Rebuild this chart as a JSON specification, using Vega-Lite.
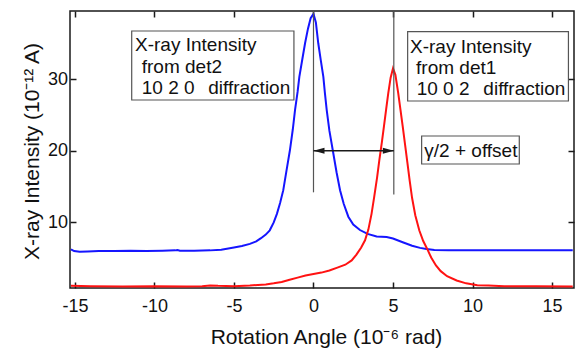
{
  "$schema": "https://vega.github.io/schema/vega-lite/v6.json",
  "width": 504,
  "height": 277,
  "autosize": {"type": "none"},
  "padding": {"left": 70, "top": 11, "right": 2, "bottom": 61},
  "background": "white",
  "config": {
    "view": {"stroke": "#1a1a1a", "strokeWidth": 1.5},
    "font": "Liberation Sans",
    "axis": {"labelFont": "Liberation Sans", "titleFont": "Liberation Sans", "labelColor": "#111", "titleColor": "#111", "titleFontWeight": "normal", "tickColor": "#1a1a1a", "tickWidth": 1.5, "grid": false, "domain": false}
  },
  "datasets": {
    "curves": [
      {"series": "det2", "x": -15.25, "y": 6.25}, {"series": "det2", "x": -15.05, "y": 6.0}, {"series": "det2", "x": -14.7, "y": 5.9}, {"series": "det2", "x": -14.2, "y": 5.95}, {"series": "det2", "x": -13.5, "y": 6.0}, {"series": "det2", "x": -12.5, "y": 6.0}, {"series": "det2", "x": -11.5, "y": 6.05}, {"series": "det2", "x": -10.5, "y": 6.0}, {"series": "det2", "x": -9.5, "y": 6.05}, {"series": "det2", "x": -8.7, "y": 6.1}, {"series": "det2", "x": -8.55, "y": 6.15}, {"series": "det2", "x": -8.4, "y": 6.05}, {"series": "det2", "x": -7.5, "y": 6.05}, {"series": "det2", "x": -6.5, "y": 6.1}, {"series": "det2", "x": -5.8, "y": 6.2}, {"series": "det2", "x": -5.0, "y": 6.5}, {"series": "det2", "x": -4.5, "y": 6.7}, {"series": "det2", "x": -4.0, "y": 7.0}, {"series": "det2", "x": -3.6, "y": 7.35}, {"series": "det2", "x": -3.3, "y": 7.8}, {"series": "det2", "x": -3.0, "y": 8.3}, {"series": "det2", "x": -2.75, "y": 8.9}, {"series": "det2", "x": -2.5, "y": 10.0}, {"series": "det2", "x": -2.3, "y": 11.2}, {"series": "det2", "x": -2.1, "y": 12.7}, {"series": "det2", "x": -1.9, "y": 14.5}, {"series": "det2", "x": -1.7, "y": 17.2}, {"series": "det2", "x": -1.48, "y": 20.1}, {"series": "det2", "x": -1.3, "y": 23.0}, {"series": "det2", "x": -1.16, "y": 25.7}, {"series": "det2", "x": -1.0, "y": 28.2}, {"series": "det2", "x": -0.89, "y": 30.3}, {"series": "det2", "x": -0.7, "y": 32.8}, {"series": "det2", "x": -0.53, "y": 35.0}, {"series": "det2", "x": -0.35, "y": 37.0}, {"series": "det2", "x": -0.18, "y": 38.5}, {"series": "det2", "x": 0.0, "y": 39.1}, {"series": "det2", "x": 0.15, "y": 37.9}, {"series": "det2", "x": 0.3, "y": 35.0}, {"series": "det2", "x": 0.46, "y": 32.6}, {"series": "det2", "x": 0.62, "y": 30.3}, {"series": "det2", "x": 0.72, "y": 28.0}, {"series": "det2", "x": 0.83, "y": 25.7}, {"series": "det2", "x": 1.0, "y": 22.8}, {"series": "det2", "x": 1.21, "y": 20.1}, {"series": "det2", "x": 1.45, "y": 17.0}, {"series": "det2", "x": 1.67, "y": 14.5}, {"series": "det2", "x": 1.9, "y": 12.6}, {"series": "det2", "x": 2.19, "y": 10.8}, {"series": "det2", "x": 2.5, "y": 9.7}, {"series": "det2", "x": 2.92, "y": 8.94}, {"series": "det2", "x": 3.4, "y": 8.4}, {"series": "det2", "x": 3.97, "y": 8.05}, {"series": "det2", "x": 4.6, "y": 7.95}, {"series": "det2", "x": 5.0, "y": 7.75}, {"series": "det2", "x": 5.65, "y": 7.2}, {"series": "det2", "x": 6.2, "y": 6.75}, {"series": "det2", "x": 6.7, "y": 6.45}, {"series": "det2", "x": 7.1, "y": 6.3}, {"series": "det2", "x": 7.6, "y": 6.15}, {"series": "det2", "x": 8.5, "y": 6.1}, {"series": "det2", "x": 10.0, "y": 6.1}, {"series": "det2", "x": 11.5, "y": 6.1}, {"series": "det2", "x": 13.0, "y": 6.1}, {"series": "det2", "x": 14.5, "y": 6.1}, {"series": "det2", "x": 16.3, "y": 6.1},
      {"series": "det1", "x": -15.25, "y": 1.15}, {"series": "det1", "x": -14.0, "y": 1.1}, {"series": "det1", "x": -12.0, "y": 1.05}, {"series": "det1", "x": -10.0, "y": 1.1}, {"series": "det1", "x": -8.0, "y": 1.05}, {"series": "det1", "x": -7.0, "y": 1.1}, {"series": "det1", "x": -6.5, "y": 1.2}, {"series": "det1", "x": -6.0, "y": 1.15}, {"series": "det1", "x": -5.0, "y": 1.1}, {"series": "det1", "x": -4.0, "y": 1.2}, {"series": "det1", "x": -3.0, "y": 1.35}, {"series": "det1", "x": -2.5, "y": 1.5}, {"series": "det1", "x": -2.0, "y": 1.7}, {"series": "det1", "x": -1.5, "y": 2.0}, {"series": "det1", "x": -1.0, "y": 2.3}, {"series": "det1", "x": -0.5, "y": 2.6}, {"series": "det1", "x": 0.0, "y": 2.8}, {"series": "det1", "x": 0.5, "y": 3.0}, {"series": "det1", "x": 1.0, "y": 3.3}, {"series": "det1", "x": 1.5, "y": 3.7}, {"series": "det1", "x": 2.0, "y": 4.1}, {"series": "det1", "x": 2.4, "y": 4.7}, {"series": "det1", "x": 2.7, "y": 5.5}, {"series": "det1", "x": 3.0, "y": 6.5}, {"series": "det1", "x": 3.24, "y": 7.5}, {"series": "det1", "x": 3.45, "y": 9.0}, {"series": "det1", "x": 3.65, "y": 11.2}, {"series": "det1", "x": 3.82, "y": 13.6}, {"series": "det1", "x": 4.0, "y": 16.3}, {"series": "det1", "x": 4.14, "y": 18.7}, {"series": "det1", "x": 4.3, "y": 21.2}, {"series": "det1", "x": 4.43, "y": 23.4}, {"series": "det1", "x": 4.57, "y": 25.8}, {"series": "det1", "x": 4.7, "y": 28.0}, {"series": "det1", "x": 4.85, "y": 30.2}, {"series": "det1", "x": 5.0, "y": 31.5}, {"series": "det1", "x": 5.15, "y": 30.6}, {"series": "det1", "x": 5.33, "y": 28.0}, {"series": "det1", "x": 5.47, "y": 25.7}, {"series": "det1", "x": 5.61, "y": 23.4}, {"series": "det1", "x": 5.75, "y": 21.0}, {"series": "det1", "x": 5.9, "y": 18.4}, {"series": "det1", "x": 6.05, "y": 15.8}, {"series": "det1", "x": 6.2, "y": 13.4}, {"series": "det1", "x": 6.4, "y": 11.0}, {"series": "det1", "x": 6.65, "y": 8.9}, {"series": "det1", "x": 6.9, "y": 7.4}, {"series": "det1", "x": 7.15, "y": 6.3}, {"series": "det1", "x": 7.4, "y": 5.1}, {"series": "det1", "x": 7.7, "y": 4.0}, {"series": "det1", "x": 8.0, "y": 3.2}, {"series": "det1", "x": 8.4, "y": 2.5}, {"series": "det1", "x": 9.0, "y": 1.9}, {"series": "det1", "x": 9.6, "y": 1.5}, {"series": "det1", "x": 10.3, "y": 1.25}, {"series": "det1", "x": 11.0, "y": 1.2}, {"series": "det1", "x": 12.0, "y": 1.1}, {"series": "det1", "x": 14.0, "y": 1.1}, {"series": "det1", "x": 16.3, "y": 1.05}
    ],
    "boxes": [
      {"x1": -11.43, "x2": -1.23, "y1": 27.08, "y2": 36.71},
      {"x1": 5.92, "x2": 16.03, "y1": 26.94, "y2": 36.61},
      {"x1": 6.80, "x2": 12.94, "y1": 18.15, "y2": 22.06}
    ],
    "labels": [
      {"x": -11.22, "y": 34.76, "t": "X-ray Intensity"},
      {"x": -10.80, "y": 31.73, "t": "from det2"},
      {"x": -10.80, "y": 28.71, "t": "10 2 0"},
      {"x": -6.62, "y": 28.71, "t": "diffraction"},
      {"x": 6.07, "y": 34.52, "t": "X-ray Intensity"},
      {"x": 6.45, "y": 31.5, "t": "from det1"},
      {"x": 6.49, "y": 28.57, "t": "10 0 2"},
      {"x": 10.68, "y": 28.57, "t": "diffraction"},
      {"x": 6.97, "y": 20.01, "t": "γ/2 + offset"}
    ],
    "vlines": [
      {"x": 0.0, "y1": 14.2, "y2": 39.5},
      {"x": 5.05, "y1": 13.9, "y2": 39.5}
    ],
    "arrow": [
      {"x1": 0.0, "x2": 5.05, "y": 20.0}
    ],
    "heads": [
      {"x": 0.0, "y": 20.0, "dir": "left"},
      {"x": 5.05, "y": 20.0, "dir": "right"}
    ]
  },
  "resolve": {"axis": {"x": "independent", "y": "independent"}},
  "layer": [
    {
      "data": {"name": "curves"},
      "mark": {"type": "line", "strokeWidth": 2, "clip": true},
      "encoding": {
        "x": {"field": "x", "type": "quantitative",
              "scale": {"domain": [-15.31, 16.38], "nice": false, "zero": false},
              "axis": {"orient": "bottom", "values": [-15, -10, -5, 0, 5, 10, 15], "labelExpr": "'' + datum.value", "tickSize": -6, "labelPadding": 24.7, "labelBaseline": "middle", "labelFontSize": 18, "labelFlush": false,
                       "title": "Rotation Angle (10⁻⁶ rad)", "titleFontSize": 21, "titleX": 256, "titleY": 55, "titleBaseline": "alphabetic", "titleAlign": "center"}},
        "y": {"field": "y", "type": "quantitative",
              "scale": {"domain": [0.85, 39.5], "nice": false, "zero": false},
              "axis": {"orient": "left", "values": [10, 20, 30], "labelExpr": "'' + datum.value", "tickSize": -6, "labelPadding": 8.5, "labelBaseline": "middle", "labelFontSize": 18,
                       "title": "X-ray Intensity (10⁻¹² A)", "titleFontSize": 21, "titleAngle": -90, "titleX": -38, "titleY": 140, "titleBaseline": "middle", "titleAlign": "center"}},
        "color": {"field": "series", "type": "nominal", "scale": {"domain": ["det2", "det1"], "range": ["#1515ff", "#ff1212"]}, "legend": null},
        "order": {"field": "x", "type": "quantitative"}
      }
    },
    {
      "data": {"name": "vlines"},
      "mark": {"type": "rule", "color": "#555555", "strokeWidth": 1.2},
      "encoding": {
        "x": {"field": "x", "type": "quantitative", "scale": {"domain": [-15.31, 16.38], "nice": false, "zero": false},
              "axis": {"orient": "top", "values": [-15, -10, -5, 0, 5, 10, 15], "tickSize": -6, "labels": false, "title": null}},
        "y": {"field": "y1", "type": "quantitative", "scale": {"domain": [0.85, 39.5], "nice": false, "zero": false},
              "axis": {"orient": "right", "values": [10, 20, 30], "tickSize": -6, "labels": false, "title": null}},
        "y2": {"field": "y2"}
      }
    },
    {
      "data": {"name": "arrow"},
      "mark": {"type": "rule", "color": "#1a1a1a", "strokeWidth": 1.3},
      "encoding": {
        "x": {"field": "x1", "type": "quantitative", "scale": {"domain": [-15.31, 16.38], "nice": false, "zero": false}, "axis": null},
        "x2": {"field": "x2"},
        "y": {"field": "y", "type": "quantitative", "scale": {"domain": [0.85, 39.5], "nice": false, "zero": false}, "axis": null}
      }
    },
    {
      "data": {"name": "heads"},
      "transform": [{"filter": "datum.dir == 'left'"}],
      "mark": {"type": "point", "shape": "M0,0 L2,-0.55 L2,0.55 Z", "size": 121, "filled": true, "color": "#1a1a1a", "opacity": 1},
      "encoding": {
        "x": {"field": "x", "type": "quantitative", "scale": {"domain": [-15.31, 16.38], "nice": false, "zero": false}, "axis": null},
        "y": {"field": "y", "type": "quantitative", "scale": {"domain": [0.85, 39.5], "nice": false, "zero": false}, "axis": null}
      }
    },
    {
      "data": {"name": "heads"},
      "transform": [{"filter": "datum.dir == 'right'"}],
      "mark": {"type": "point", "shape": "M0,0 L-2,-0.55 L-2,0.55 Z", "size": 121, "filled": true, "color": "#1a1a1a", "opacity": 1},
      "encoding": {
        "x": {"field": "x", "type": "quantitative", "scale": {"domain": [-15.31, 16.38], "nice": false, "zero": false}, "axis": null},
        "y": {"field": "y", "type": "quantitative", "scale": {"domain": [0.85, 39.5], "nice": false, "zero": false}, "axis": null}
      }
    },
    {
      "data": {"name": "boxes"},
      "mark": {"type": "rect", "fill": "white", "stroke": "#555555", "strokeWidth": 1.2},
      "encoding": {
        "x": {"field": "x1", "type": "quantitative", "scale": {"domain": [-15.31, 16.38], "nice": false, "zero": false}, "axis": null},
        "x2": {"field": "x2"},
        "y": {"field": "y1", "type": "quantitative", "scale": {"domain": [0.85, 39.5], "nice": false, "zero": false}, "axis": null},
        "y2": {"field": "y2"}
      }
    },
    {
      "data": {"name": "labels"},
      "mark": {"type": "text", "align": "left", "baseline": "middle", "font": "Liberation Sans", "fontSize": 19, "color": "#111111"},
      "encoding": {
        "x": {"field": "x", "type": "quantitative", "scale": {"domain": [-15.31, 16.38], "nice": false, "zero": false}, "axis": null},
        "y": {"field": "y", "type": "quantitative", "scale": {"domain": [0.85, 39.5], "nice": false, "zero": false}, "axis": null},
        "text": {"field": "t", "type": "nominal"}
      }
    }
  ]
}
